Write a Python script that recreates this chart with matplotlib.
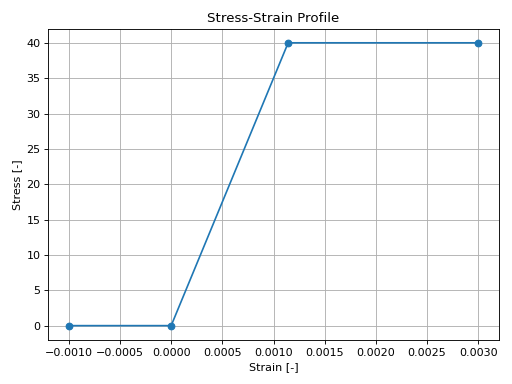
import matplotlib
matplotlib.use("Agg")
from matplotlib import pyplot as plt

# data
strain = [-0.001, 0.0, 40 / 35000, 0.003]
stress = [0, 0, 40, 40]

fig = plt.figure(figsize=(6.4, 4.8), dpi=80)
plt.plot(strain, stress, marker="o")
plt.title("Stress-Strain Profile")
plt.xlabel("Strain [-]")
plt.ylabel("Stress [-]")
plt.grid(True)
plt.tight_layout()
plt.savefig("out.png", dpi=80)
